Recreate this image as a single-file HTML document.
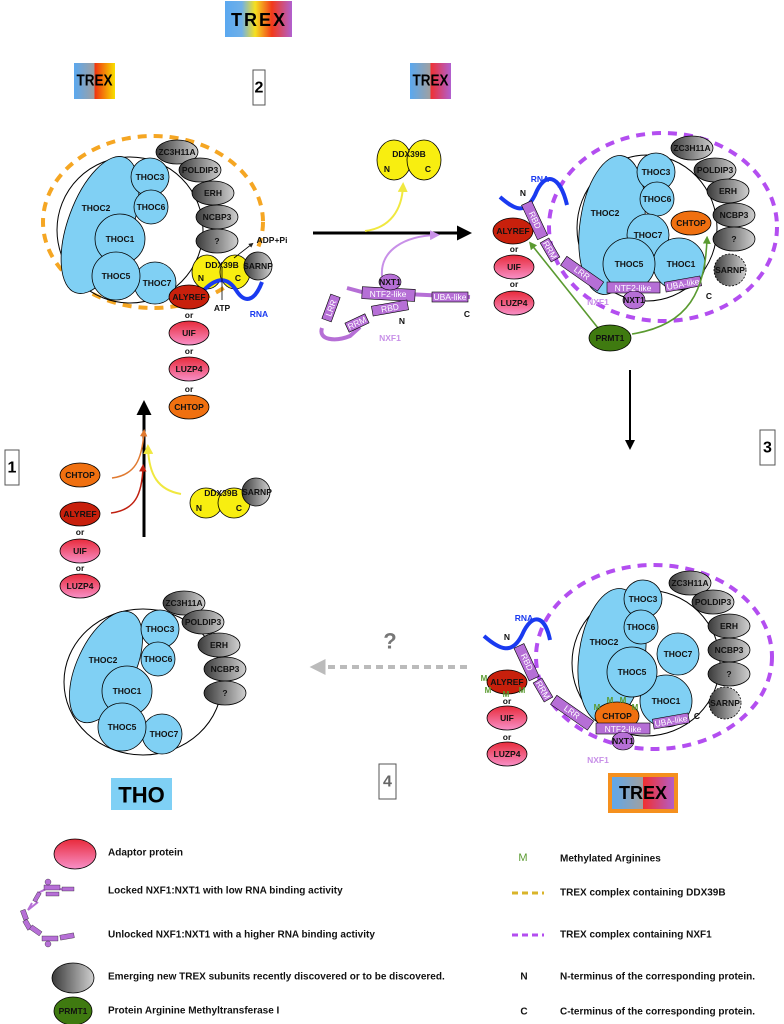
<!DOCTYPE html>
<html><head><meta charset="utf-8"><style>
html,body{margin:0;padding:0;background:#fff;}
svg{display:block;font-family:"Liberation Sans",sans-serif;}
.t{font-weight:bold;font-size:8.5px;text-anchor:middle;dominant-baseline:central;fill:#111;}
.w{font-size:8.5px;text-anchor:middle;dominant-baseline:central;fill:#fff;}
.lg{font-weight:bold;font-size:10px;dominant-baseline:central;fill:#111;}
</style></head><body>
<svg width="784" height="1024" viewBox="0 0 784 1024" xmlns="http://www.w3.org/2000/svg">
<defs>
<linearGradient id="gTop" x1="0" x2="1"><stop offset="0" stop-color="#5aa8f0"/><stop offset="0.25" stop-color="#6fb0e8"/><stop offset="0.45" stop-color="#f5e020"/><stop offset="0.7" stop-color="#f23a1a"/><stop offset="1" stop-color="#b060d0"/></linearGradient>
<linearGradient id="gL" x1="0" x2="1"><stop offset="0" stop-color="#5aa8f0"/><stop offset="0.5" stop-color="#a0a0a0"/><stop offset="0.5" stop-color="#f03010"/><stop offset="1" stop-color="#f8e000"/></linearGradient>
<linearGradient id="gR" x1="0" x2="1"><stop offset="0" stop-color="#5aa8f0"/><stop offset="0.5" stop-color="#a0a0a0"/><stop offset="0.5" stop-color="#f03030"/><stop offset="1" stop-color="#b060d0"/></linearGradient>
<linearGradient id="gray" x1="0" x2="1" y1="0" y2="0"><stop offset="0" stop-color="#3a3a3a"/><stop offset="1" stop-color="#d0d0d0"/></linearGradient>
<linearGradient id="pink" x1="0" x2="0" y1="0" y2="1"><stop offset="0" stop-color="#e82a3a"/><stop offset="1" stop-color="#f890c8"/></linearGradient>
<marker id="ak" viewBox="0 0 10 10" refX="6" refY="5" markerWidth="5" markerHeight="5" orient="auto"><path d="M0,0L10,5L0,10z" fill="#000"/></marker>
<marker id="ay" viewBox="0 0 10 10" refX="6" refY="5" markerWidth="5" markerHeight="5" orient="auto"><path d="M0,0L10,5L0,10z" fill="#f0e840"/></marker>
<marker id="ap" viewBox="0 0 10 10" refX="6" refY="5" markerWidth="5" markerHeight="5" orient="auto"><path d="M0,0L10,5L0,10z" fill="#c890e8"/></marker>
<marker id="ag" viewBox="0 0 10 10" refX="6" refY="5" markerWidth="5" markerHeight="5" orient="auto"><path d="M0,0L10,5L0,10z" fill="#5a9a30"/></marker>
<marker id="ao" viewBox="0 0 10 10" refX="6" refY="5" markerWidth="5" markerHeight="5" orient="auto"><path d="M0,0L10,5L0,10z" fill="#e07a30"/></marker>
<marker id="ar" viewBox="0 0 10 10" refX="6" refY="5" markerWidth="5" markerHeight="5" orient="auto"><path d="M0,0L10,5L0,10z" fill="#c02010"/></marker>
<marker id="agr" viewBox="0 0 10 10" refX="6" refY="5" markerWidth="4" markerHeight="4" orient="auto"><path d="M0,0L10,5L0,10z" fill="#bbb"/></marker>
<marker id="asm" viewBox="0 0 10 10" refX="6" refY="5" markerWidth="6" markerHeight="6" orient="auto"><path d="M0,0L10,5L0,10z" fill="#222"/></marker>
</defs>

<!-- Titles -->
<rect x="225" y="1" width="67" height="36" fill="url(#gTop)"/>
<text x="231" y="20" font-size="18" font-weight="bold" dominant-baseline="central" textLength="54" lengthAdjust="spacing">TREX</text>
<rect x="74" y="63" width="41" height="36" fill="url(#gL)"/>
<text x="76.5" y="81" font-size="16" font-weight="bold" dominant-baseline="central" textLength="36" lengthAdjust="spacingAndGlyphs">TREX</text>
<rect x="410" y="63" width="41" height="36" fill="url(#gR)"/>
<text x="412.5" y="81" font-size="16" font-weight="bold" dominant-baseline="central" textLength="36" lengthAdjust="spacingAndGlyphs">TREX</text>
<rect x="253" y="70" width="12" height="35" fill="#fff" stroke="#555"/>
<text x="259" y="88" font-size="16" font-weight="bold" text-anchor="middle" dominant-baseline="central">2</text>

<!-- Panel top-left -->
<ellipse cx="153" cy="222" rx="110" ry="86" fill="none" stroke="#f5a623" stroke-width="4" stroke-dasharray="9,7"/>
<ellipse cx="130" cy="230" rx="73" ry="73" fill="none" stroke="#000" stroke-width="1"/>
<ellipse cx="100" cy="225" rx="32" ry="72" transform="rotate(20 100 225)" fill="#80d0f4" stroke="#000" stroke-width="0.8"/>
<text class="t" x="96" y="208">THOC2</text>
<circle cx="150" cy="177" r="19" fill="#80d0f4" stroke="#000" stroke-width="0.8"/><text class="t" x="150" y="177">THOC3</text>
<circle cx="151" cy="207" r="17" fill="#80d0f4" stroke="#000" stroke-width="0.8"/><text class="t" x="151" y="207">THOC6</text>
<circle cx="120" cy="239" r="25" fill="#80d0f4" stroke="#000" stroke-width="0.8"/><text class="t" x="120" y="239">THOC1</text>
<circle cx="155" cy="283" r="21" fill="#80d0f4" stroke="#000" stroke-width="0.8"/><text class="t" x="157" y="283">THOC7</text>
<circle cx="116" cy="276" r="24" fill="#80d0f4" stroke="#000" stroke-width="0.8"/><text class="t" x="116" y="276">THOC5</text>
<g stroke="#000" stroke-width="0.8" fill="url(#gray)">
<ellipse cx="177" cy="152" rx="21" ry="12"/><ellipse cx="200" cy="170" rx="21" ry="12"/><ellipse cx="213" cy="193" rx="21" ry="12"/><ellipse cx="217" cy="217" rx="21" ry="12"/><ellipse cx="217" cy="241" rx="21" ry="12"/></g>
<text class="t" x="177" y="152">ZC3H11A</text><text class="t" x="200" y="170">POLDIP3</text><text class="t" x="213" y="193">ERH</text><text class="t" x="217" y="217">NCBP3</text><text class="t" x="217" y="241">?</text>
<ellipse cx="207" cy="272" rx="15" ry="17" fill="#f8ee10" stroke="#000" stroke-width="0.8"/>
<ellipse cx="235" cy="272" rx="15" ry="17" fill="#f8ee10" stroke="#000" stroke-width="0.8"/>
<circle cx="258" cy="266" r="14" fill="url(#gray)" stroke="#000" stroke-width="0.8"/><text class="t" x="258" y="266">SARNP</text>
<text class="t" x="222" y="265">DDX39B</text><text class="t" x="201" y="278">N</text><text class="t" x="238" y="278">C</text>
<path d="M204,290 C218,276 228,278 236,290 C244,303 254,303 262,282" fill="none" stroke="#1a3af0" stroke-width="4"/>
<path d="M222,268 L222,300" stroke="#000" stroke-width="0.8"/>
<text class="t" x="222" y="308" font-weight="normal">ATP</text>
<line x1="234" y1="258" x2="252" y2="244" stroke="#000" stroke-width="0.8" marker-end="url(#asm)"/>
<text class="t" x="272" y="240" font-weight="normal" font-size="9">ADP+Pi</text>
<text class="t" x="259" y="314" style="fill:#1a3af0">RNA</text>
<ellipse cx="189" cy="297" rx="20" ry="12" fill="#c8200c" stroke="#000" stroke-width="0.8"/><text class="t" x="189" y="297">ALYREF</text>
<text class="t" x="189" y="315">or</text>
<ellipse cx="189" cy="333" rx="20" ry="12" fill="url(#pink)" stroke="#000" stroke-width="0.8"/><text class="t" x="189" y="333">UIF</text>
<text class="t" x="189" y="351">or</text>
<ellipse cx="189" cy="369" rx="20" ry="12" fill="url(#pink)" stroke="#000" stroke-width="0.8"/><text class="t" x="189" y="369">LUZP4</text>
<text class="t" x="189" y="389">or</text>
<ellipse cx="189" cy="407" rx="20" ry="12" fill="#f07010" stroke="#000" stroke-width="0.8"/><text class="t" x="189" y="407">CHTOP</text>

<!-- Step 1 -->
<rect x="5" y="450" width="14" height="35" fill="#fff" stroke="#555"/>
<text x="12" y="468" font-size="16" font-weight="bold" text-anchor="middle" dominant-baseline="central">1</text>
<line x1="144" y1="537" x2="144" y2="406" stroke="#000" stroke-width="3" marker-end="url(#ak)"/>
<path d="M112,478 C135,475 142,460 144,432" fill="none" stroke="#e07a30" stroke-width="1.5" marker-end="url(#ao)"/>
<path d="M111,513 C135,510 142,495 143,467" fill="none" stroke="#c02010" stroke-width="1.5" marker-end="url(#ar)"/>
<path d="M181,494 C158,490 149,475 148,448" fill="none" stroke="#f0e840" stroke-width="2" marker-end="url(#ay)"/>
<ellipse cx="80" cy="475" rx="20" ry="12" fill="#f07010" stroke="#000" stroke-width="0.8"/><text class="t" x="80" y="475">CHTOP</text>
<ellipse cx="80" cy="514" rx="20" ry="12" fill="#c8200c" stroke="#000" stroke-width="0.8"/><text class="t" x="80" y="514">ALYREF</text>
<text class="t" x="80" y="532" font-size="7">or</text>
<ellipse cx="80" cy="551" rx="20" ry="12" fill="url(#pink)" stroke="#000" stroke-width="0.8"/><text class="t" x="80" y="551">UIF</text>
<text class="t" x="80" y="568" font-size="7">or</text>
<ellipse cx="80" cy="586" rx="20" ry="12" fill="url(#pink)" stroke="#000" stroke-width="0.8"/><text class="t" x="80" y="586">LUZP4</text>
<ellipse cx="206" cy="503" rx="16" ry="15" fill="#f8ee10" stroke="#000" stroke-width="0.8"/>
<ellipse cx="234" cy="503" rx="16" ry="15" fill="#f8ee10" stroke="#000" stroke-width="0.8"/>
<circle cx="256" cy="492" r="14" fill="url(#gray)" stroke="#000" stroke-width="0.8"/><text class="t" x="257" y="492">SARNP</text>
<text class="t" x="221" y="493">DDX39B</text><text class="t" x="199" y="508">N</text><text class="t" x="239" y="508">C</text>

<!-- THO bottom-left -->
<ellipse cx="143" cy="682" rx="79" ry="73" fill="none" stroke="#000" stroke-width="1"/>
<ellipse cx="106" cy="667" rx="29" ry="60" transform="rotate(25 106 667)" fill="#80d0f4" stroke="#000" stroke-width="0.8"/>
<text class="t" x="103" y="660">THOC2</text>
<circle cx="160" cy="629" r="19" fill="#80d0f4" stroke="#000" stroke-width="0.8"/><text class="t" x="160" y="629">THOC3</text>
<circle cx="158" cy="659" r="17" fill="#80d0f4" stroke="#000" stroke-width="0.8"/><text class="t" x="158" y="659">THOC6</text>
<circle cx="127" cy="691" r="25" fill="#80d0f4" stroke="#000" stroke-width="0.8"/><text class="t" x="127" y="691">THOC1</text>
<circle cx="162" cy="734" r="20" fill="#80d0f4" stroke="#000" stroke-width="0.8"/><text class="t" x="164" y="734">THOC7</text>
<circle cx="122" cy="727" r="24" fill="#80d0f4" stroke="#000" stroke-width="0.8"/><text class="t" x="122" y="727">THOC5</text>
<g stroke="#000" stroke-width="0.8" fill="url(#gray)">
<ellipse cx="184" cy="603" rx="21" ry="12"/><ellipse cx="203" cy="622" rx="21" ry="12"/><ellipse cx="219" cy="645" rx="21" ry="12"/><ellipse cx="225" cy="669" rx="21" ry="12"/><ellipse cx="225" cy="693" rx="21" ry="12"/></g>
<text class="t" x="184" y="603">ZC3H11A</text><text class="t" x="203" y="622">POLDIP3</text><text class="t" x="219" y="645">ERH</text><text class="t" x="225" y="669">NCBP3</text><text class="t" x="225" y="693">?</text>
<rect x="111" y="778" width="61" height="32" fill="#7fd0f5"/>
<text x="141.5" y="795" font-size="22" font-weight="bold" text-anchor="middle" dominant-baseline="central">THO</text>

<!-- Step 4 -->
<text x="390" y="641" font-size="22" font-weight="bold" fill="#777" text-anchor="middle" dominant-baseline="central">?</text>
<line x1="467" y1="667" x2="316" y2="667" stroke="#bbb" stroke-width="4" stroke-dasharray="7,5" marker-end="url(#agr)"/>
<rect x="379" y="764" width="17" height="35" fill="#fff" stroke="#555"/>
<text x="387.5" y="782" font-size="16" font-weight="bold" fill="#666" text-anchor="middle" dominant-baseline="central">4</text>

<!-- Step 2 middle -->
<line x1="313" y1="233" x2="466" y2="233" stroke="#000" stroke-width="3" marker-end="url(#ak)"/>
<path d="M365,231 C390,228 402,210 403,186" fill="none" stroke="#f0e840" stroke-width="2" marker-end="url(#ay)"/>
<path d="M382,276 C380,250 405,236 436,235" fill="none" stroke="#c890e8" stroke-width="2" marker-end="url(#ap)"/>
<ellipse cx="394" cy="160" rx="17" ry="20" fill="#f8ee10" stroke="#000" stroke-width="0.8"/>
<ellipse cx="424" cy="160" rx="17" ry="20" fill="#f8ee10" stroke="#000" stroke-width="0.8"/>
<text class="t" x="409" y="154">DDX39B</text><text class="t" x="387" y="169">N</text><text class="t" x="428" y="169">C</text>
<path d="M347,288 L362,292 L470,297 M322,328 C318,340 335,342 350,336 L360,327" fill="none" stroke="#b66fd6" stroke-width="4"/>
<g fill="#b66fd6" stroke="#000" stroke-width="0.6">
<rect x="362" y="288" width="53" height="12" transform="rotate(3 388 294)"/>
<rect x="432" y="292" width="36" height="10"/>
<rect x="372" y="303" width="36" height="10" transform="rotate(-10 390 308)"/>
<rect x="346" y="318" width="22" height="10" transform="rotate(-25 357 323)"/>
<rect x="318" y="303" width="26" height="10" transform="rotate(-70 331 308)"/>
<ellipse cx="390" cy="282" rx="11" ry="8"/></g>
<text class="w" x="388" y="294" font-size="8">NTF2-like</text><text class="w" x="450" y="297" font-size="8">UBA-like</text>
<text class="w" x="390" y="308" transform="rotate(-10 390 308)">RBD</text>
<text class="w" x="357" y="323" font-size="7" transform="rotate(-25 357 323)">RRM</text>
<text class="w" x="331" y="308" font-size="7" transform="rotate(-70 331 308)">LRR</text>
<text class="t" x="390" y="282" font-size="6.5">NXT1</text>
<text class="t" x="402" y="321">N</text><text class="t" x="467" y="314">C</text>
<text class="t" x="390" y="338" style="fill:#c890e8">NXF1</text>

<!-- Top right panel -->
<ellipse cx="663" cy="227" rx="114" ry="94" fill="none" stroke="#b34ef0" stroke-width="4" stroke-dasharray="9,7"/>
<ellipse cx="647" cy="228" rx="70" ry="73" fill="none" stroke="#000" stroke-width="1"/>
<ellipse cx="612" cy="225" rx="32" ry="70" transform="rotate(8 612 225)" fill="#80d0f4" stroke="#000" stroke-width="0.8"/>
<text class="t" x="605" y="213">THOC2</text>
<circle cx="656" cy="172" r="19" fill="#80d0f4" stroke="#000" stroke-width="0.8"/><text class="t" x="656" y="172">THOC3</text>
<circle cx="657" cy="199" r="17" fill="#80d0f4" stroke="#000" stroke-width="0.8"/><text class="t" x="657" y="199">THOC6</text>
<circle cx="648" cy="235" r="21" fill="#80d0f4" stroke="#000" stroke-width="0.8"/><text class="t" x="648" y="235">THOC7</text>
<circle cx="679" cy="264" r="26" fill="#80d0f4" stroke="#000" stroke-width="0.8"/><text class="t" x="681" y="264">THOC1</text>
<circle cx="629" cy="264" r="26" fill="#80d0f4" stroke="#000" stroke-width="0.8"/><text class="t" x="629" y="264">THOC5</text>
<ellipse cx="691" cy="223" rx="20" ry="12" fill="#f07010" stroke="#000" stroke-width="0.8"/><text class="t" x="691" y="223">CHTOP</text>
<g stroke="#000" stroke-width="0.8" fill="url(#gray)">
<ellipse cx="692" cy="148" rx="21" ry="12"/><ellipse cx="715" cy="170" rx="21" ry="12"/><ellipse cx="728" cy="191" rx="21" ry="12"/><ellipse cx="734" cy="215" rx="21" ry="12"/><ellipse cx="734" cy="239" rx="21" ry="12"/>
<circle cx="730" cy="270" r="16" stroke-dasharray="2,1.5"/></g>
<text class="t" x="692" y="148">ZC3H11A</text><text class="t" x="715" y="170">POLDIP3</text><text class="t" x="728" y="191">ERH</text><text class="t" x="734" y="215">NCBP3</text><text class="t" x="734" y="239">?</text><text class="t" x="730" y="270">SARNP</text>
<path d="M500,197 C515,210 525,215 535,195 C545,170 560,175 567,205" fill="none" stroke="#1a3af0" stroke-width="4"/>
<text class="t" x="540" y="179" style="fill:#1a3af0">RNA</text><text class="t" x="523" y="193">N</text>
<ellipse cx="513" cy="231" rx="20" ry="13" fill="#c8200c" stroke="#000" stroke-width="0.8"/><text class="t" x="513" y="231">ALYREF</text>
<text class="t" x="514" y="249" font-size="7">or</text>
<ellipse cx="514" cy="267" rx="20" ry="12" fill="url(#pink)" stroke="#000" stroke-width="0.8"/><text class="t" x="514" y="267">UIF</text>
<text class="t" x="514" y="284" font-size="7">or</text>
<ellipse cx="514" cy="303" rx="20" ry="12" fill="url(#pink)" stroke="#000" stroke-width="0.8"/><text class="t" x="514" y="303">LUZP4</text>
<g fill="#b66fd6" stroke="#000" stroke-width="0.6">
<rect x="516" y="215" width="38" height="11" transform="rotate(65 535 220)"/>
<rect x="539" y="245" width="22" height="10" transform="rotate(60 550 250)"/>
<rect x="560" y="268" width="45" height="11" transform="rotate(35 582 273)"/>
<rect x="607" y="282" width="53" height="11"/>
<rect x="665" y="279" width="36" height="10" transform="rotate(-10 683 284)"/>
<ellipse cx="634" cy="300" rx="11" ry="9"/></g>
<text class="w" x="535" y="220" transform="rotate(65 535 220)">RBD</text>
<text class="w" x="550" y="250" font-size="7" transform="rotate(60 550 250)">RRM</text>
<text class="w" x="582" y="273" transform="rotate(35 582 273)">LRR</text>
<text class="w" x="633" y="288">NTF2-like</text>
<text class="w" x="683" y="284" font-size="8" transform="rotate(-10 683 284)">UBA-like</text>
<text class="t" x="634" y="300" font-size="6.5">NXT1</text>
<text class="t" x="598" y="302" style="fill:#c890e8">NXF1</text><text class="t" x="709" y="296">C</text>
<line x1="598" y1="328" x2="531" y2="244" stroke="#5a9a30" stroke-width="1.6" marker-end="url(#ag)"/>
<path d="M632,334 C690,325 705,290 707,239" fill="none" stroke="#5a9a30" stroke-width="1.6" marker-end="url(#ag)"/>
<ellipse cx="610" cy="338" rx="21" ry="13" fill="#3f7a10" stroke="#000" stroke-width="0.8"/><text class="t" x="610" y="338">PRMT1</text>

<!-- Step 3 -->
<rect x="760" y="430" width="15" height="35" fill="#fff" stroke="#555"/>
<text x="767.5" y="448" font-size="16" font-weight="bold" text-anchor="middle" dominant-baseline="central">3</text>
<line x1="630" y1="370" x2="630" y2="446" stroke="#000" stroke-width="2" marker-end="url(#ak)"/>

<!-- Bottom right panel -->
<ellipse cx="654" cy="657" rx="118" ry="92" fill="none" stroke="#b34ef0" stroke-width="4" stroke-dasharray="9,7"/>
<ellipse cx="646" cy="663" rx="74" ry="73" fill="none" stroke="#000" stroke-width="1"/>
<ellipse cx="612" cy="656" rx="33" ry="68" transform="rotate(8 612 656)" fill="#80d0f4" stroke="#000" stroke-width="0.8"/>
<text class="t" x="604" y="642">THOC2</text>
<circle cx="643" cy="599" r="19" fill="#80d0f4" stroke="#000" stroke-width="0.8"/><text class="t" x="643" y="599">THOC3</text>
<circle cx="641" cy="627" r="17" fill="#80d0f4" stroke="#000" stroke-width="0.8"/><text class="t" x="641" y="627">THOC6</text>
<circle cx="678" cy="654" r="21" fill="#80d0f4" stroke="#000" stroke-width="0.8"/><text class="t" x="678" y="654">THOC7</text>
<circle cx="666" cy="701" r="26" fill="#80d0f4" stroke="#000" stroke-width="0.8"/><text class="t" x="666" y="701">THOC1</text>
<circle cx="632" cy="672" r="25" fill="#80d0f4" stroke="#000" stroke-width="0.8"/><text class="t" x="632" y="672">THOC5</text>
<g stroke="#000" stroke-width="0.8" fill="url(#gray)">
<ellipse cx="690" cy="583" rx="21" ry="12"/><ellipse cx="713" cy="602" rx="21" ry="12"/><ellipse cx="729" cy="626" rx="21" ry="12"/><ellipse cx="729" cy="650" rx="21" ry="12"/><ellipse cx="729" cy="674" rx="21" ry="12"/>
<circle cx="725" cy="703" r="16" stroke-dasharray="2,1.5"/></g>
<text class="t" x="690" y="583">ZC3H11A</text><text class="t" x="713" y="602">POLDIP3</text><text class="t" x="729" y="626">ERH</text><text class="t" x="729" y="650">NCBP3</text><text class="t" x="729" y="674">?</text><text class="t" x="725" y="703">SARNP</text>
<path d="M484,636 C500,650 512,655 522,635 C532,612 545,615 550,640" fill="none" stroke="#1a3af0" stroke-width="4"/>
<text class="t" x="524" y="618" style="fill:#1a3af0">RNA</text><text class="t" x="507" y="637">N</text>
<ellipse cx="507" cy="682" rx="20" ry="12" fill="#c8200c" stroke="#000" stroke-width="0.8"/><text class="t" x="507" y="682">ALYREF</text>
<text class="t" x="507" y="701">or</text>
<ellipse cx="507" cy="718" rx="20" ry="12" fill="url(#pink)" stroke="#000" stroke-width="0.8"/><text class="t" x="507" y="718">UIF</text>
<text class="t" x="507" y="737">or</text>
<ellipse cx="507" cy="754" rx="20" ry="12" fill="url(#pink)" stroke="#000" stroke-width="0.8"/><text class="t" x="507" y="754">LUZP4</text>
<ellipse cx="617" cy="716" rx="22" ry="14" fill="#f07010" stroke="#000" stroke-width="0.8"/><text class="t" x="617" y="716">CHTOP</text>
<g fill="#5a9a30" font-size="8" font-weight="bold" text-anchor="middle">
<text x="484" y="681">M</text><text x="488" y="693">M</text><text x="506" y="697">M</text><text x="522" y="693">M</text>
<text x="597" y="710">M</text><text x="610" y="703">M</text><text x="623" y="703">M</text><text x="635" y="710">M</text></g>
<g fill="#b66fd6" stroke="#000" stroke-width="0.6">
<rect x="509" y="657" width="36" height="11" transform="rotate(65 527 662)"/>
<rect x="532" y="685" width="22" height="10" transform="rotate(60 543 690)"/>
<rect x="550" y="707" width="45" height="11" transform="rotate(35 572 712)"/>
<rect x="596" y="723" width="54" height="11"/>
<rect x="653" y="716" width="36" height="10" transform="rotate(-10 671 721)"/>
<ellipse cx="623" cy="741" rx="11" ry="9"/></g>
<text class="w" x="527" y="662" transform="rotate(65 527 662)">RBD</text>
<text class="w" x="543" y="690" font-size="7" transform="rotate(60 543 690)">RRM</text>
<text class="w" x="572" y="712" transform="rotate(35 572 712)">LRR</text>
<text class="w" x="623" y="729">NTF2-like</text>
<text class="w" x="671" y="721" font-size="8" transform="rotate(-10 671 721)">UBA-like</text>
<text class="t" x="623" y="741" font-size="6.5">NXT1</text>
<text class="t" x="598" y="760" style="fill:#c890e8">NXF1</text><text class="t" x="697" y="716">C</text>
<rect x="610" y="775" width="66" height="36" fill="url(#gR)" stroke="#f5901e" stroke-width="4"/>
<text x="643" y="793" font-size="18" font-weight="bold" text-anchor="middle" dominant-baseline="central">TREX</text>

<!-- Legend -->
<ellipse cx="75" cy="854" rx="21" ry="15" fill="url(#pink)" stroke="#000" stroke-width="0.8"/>
<text class="lg" x="108" y="853">Adaptor protein</text>
<g stroke="#b66fd6" stroke-width="2" fill="none"><path d="M38,893 L48,888 L70,890 M32,903 L28,910 L38,902"/></g>
<g fill="#b66fd6" stroke="#000" stroke-width="0.3"><rect x="44" y="885" width="16" height="5"/><rect x="62" y="887" width="12" height="4"/><rect x="46" y="892" width="13" height="4"/><rect x="32" y="895" width="10" height="4" transform="rotate(-60 37 897)"/><circle cx="48" cy="882" r="3"/></g>
<text class="lg" x="108" y="891">Locked NXF1:NXT1 with low RNA binding activity</text>
<g fill="#b66fd6" stroke="#000" stroke-width="0.3"><rect x="22" y="910" width="5" height="10" transform="rotate(-20 24 915)"/><rect x="25" y="920" width="5" height="10" transform="rotate(-30 27 925)"/><rect x="30" y="928" width="12" height="5" transform="rotate(35 36 930)"/><rect x="42" y="936" width="16" height="5"/><rect x="60" y="934" width="14" height="5" transform="rotate(-10 67 936)"/><circle cx="48" cy="944" r="3"/></g>
<text class="lg" x="108" y="935">Unlocked NXF1:NXT1 with a higher RNA binding activity</text>
<ellipse cx="73" cy="978" rx="21" ry="15" fill="url(#gray)" stroke="#000" stroke-width="0.8"/>
<text class="lg" x="108" y="977">Emerging new TREX subunits recently discovered or to be discovered.</text>
<ellipse cx="73" cy="1011" rx="19" ry="14" fill="#3f7a10" stroke="#000" stroke-width="0.8"/><text class="t" x="73" y="1011">PRMT1</text>
<text class="lg" x="108" y="1011">Protein Arginine Methyltransferase I</text>
<text x="523" y="858" font-size="11" fill="#5a9a30" text-anchor="middle" dominant-baseline="central">M</text>
<text class="lg" x="560" y="859">Methylated Arginines</text>
<line x1="512" y1="893" x2="544" y2="893" stroke="#d9b42a" stroke-width="3" stroke-dasharray="6,4"/>
<text class="lg" x="560" y="893">TREX complex containing DDX39B</text>
<line x1="512" y1="935" x2="544" y2="935" stroke="#b34ef0" stroke-width="3" stroke-dasharray="6,4"/>
<text class="lg" x="560" y="935">TREX complex containing NXF1</text>
<text class="lg" x="524" y="977" text-anchor="middle">N</text>
<text class="lg" x="560" y="977">N-terminus of the corresponding protein.</text>
<text class="lg" x="524" y="1012" text-anchor="middle">C</text>
<text class="lg" x="560" y="1012">C-terminus of the corresponding protein.</text>
</svg>
</body></html>
